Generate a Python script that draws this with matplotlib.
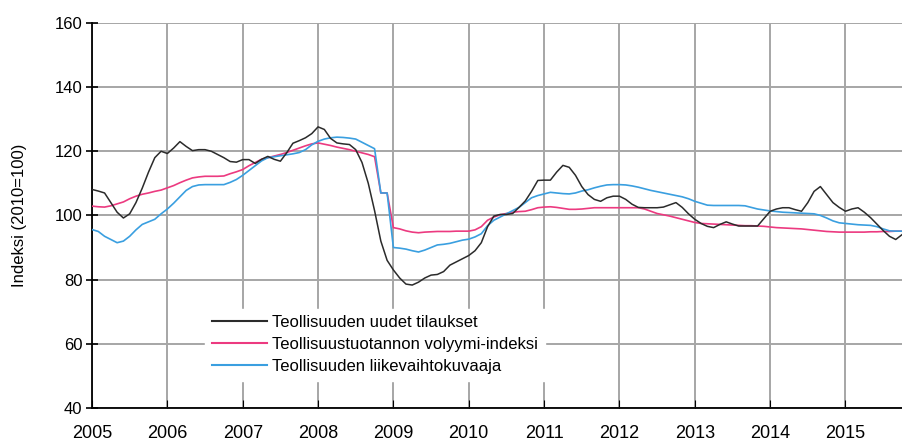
import numpy as np
import matplotlib
matplotlib.use('Agg')
import matplotlib.pyplot as plt

# monthly data, Jan 2005 .. Oct 2015 (2010=100)
orders = [
    108.1, 107.6, 107.0, 104.0, 101.0, 99.2, 100.5, 104.0, 108.5, 113.5, 118.0, 120.0,
    119.3, 121.0, 123.0, 121.5, 120.2, 120.5, 120.5, 120.0, 119.0, 118.0, 116.8, 116.6,
    117.4, 117.4, 116.2, 117.5, 118.4, 117.5, 116.9, 119.5, 122.5, 123.3, 124.2, 125.5,
    127.6, 126.8, 124.0, 122.6, 122.3, 122.1, 120.5, 116.5, 110.0, 101.5, 92.0, 86.0,
    83.0, 80.5, 78.6, 78.3, 79.2, 80.5, 81.4, 81.6, 82.5, 84.5, 85.5, 86.5,
    87.5, 89.0, 91.5, 96.5, 99.8, 100.3, 100.3, 100.6, 102.5, 104.5, 107.5, 110.9,
    111.0, 111.0, 113.5, 115.6, 115.0, 112.5, 109.0, 106.5, 105.0, 104.4, 105.5, 106.0,
    106.0, 105.0, 103.5, 102.5, 102.4, 102.4, 102.4, 102.6, 103.3, 104.0, 102.5, 100.5,
    98.8, 97.5, 96.6, 96.2, 97.2, 98.0, 97.3, 96.7, 96.7, 96.7, 96.7, 99.0,
    101.3, 102.0, 102.4, 102.4, 101.8, 101.3, 104.0, 107.5, 109.0, 106.5, 104.0, 102.5,
    101.3, 102.0, 102.4, 101.0, 99.3, 97.3, 95.3, 93.5, 92.5, 94.0,
]
volume = [
    102.9, 102.7, 102.6, 103.0, 103.6, 104.2, 105.2, 106.0, 106.6, 107.0, 107.5, 107.9,
    108.6, 109.3, 110.2, 111.0, 111.7, 112.0, 112.2, 112.2, 112.2, 112.3, 113.0, 113.6,
    114.3, 115.5, 116.5, 117.5, 118.0, 118.5, 119.0, 119.6, 120.3, 121.0, 121.7, 122.3,
    122.6, 122.2, 121.8, 121.3, 120.9, 120.5, 120.0, 119.5, 119.0, 118.3, 107.0, 107.0,
    96.2, 95.8, 95.2, 94.8, 94.6, 94.8, 94.9, 95.0, 95.0, 95.0, 95.1, 95.1,
    95.1, 95.5, 96.5, 98.5, 99.5, 100.2, 100.6, 101.0, 101.2, 101.3, 101.8, 102.4,
    102.6, 102.7, 102.5, 102.2, 101.9, 101.9, 102.0, 102.2, 102.4, 102.4, 102.4, 102.4,
    102.4, 102.4, 102.4, 102.4, 102.0, 101.3, 100.6, 100.2, 99.8, 99.3, 98.8, 98.3,
    97.8, 97.5, 97.4, 97.3, 97.2, 97.1, 97.0, 96.9, 96.8, 96.8, 96.7, 96.6,
    96.4, 96.2, 96.1, 96.0, 95.9, 95.8, 95.6, 95.4, 95.2, 95.0, 94.9, 94.8,
    94.8, 94.8, 94.8, 94.8, 94.9, 94.9, 95.0, 95.0, 95.1, 95.1,
]
turnover = [
    95.6, 95.0, 93.5, 92.5, 91.5, 92.0, 93.5, 95.5, 97.2, 98.0, 98.8, 100.5,
    102.0, 103.8, 105.8, 107.8, 109.0, 109.5, 109.6, 109.6, 109.6, 109.6, 110.3, 111.2,
    112.5, 114.0, 115.5, 117.0, 118.0, 118.3, 118.6, 118.9, 119.2, 119.6, 120.5, 122.0,
    123.1, 123.8, 124.2, 124.4, 124.3, 124.1, 123.8, 122.8, 121.8, 120.8, 107.0, 107.0,
    90.0, 89.8, 89.5, 89.0, 88.6, 89.2, 90.0, 90.8, 91.0, 91.3, 91.8, 92.3,
    92.6, 93.3, 94.3, 96.8, 98.5, 99.5, 100.5, 101.5, 102.5, 104.0, 105.5, 106.2,
    106.7, 107.2, 107.0, 106.8, 106.7, 107.0, 107.6, 108.0, 108.6, 109.1, 109.5, 109.6,
    109.6, 109.5, 109.2, 108.8, 108.3, 107.8, 107.4, 107.0, 106.6, 106.2, 105.8, 105.2,
    104.4, 103.8, 103.2, 103.1, 103.1, 103.1, 103.1, 103.1, 103.0, 102.5, 102.0, 101.7,
    101.4, 101.2, 101.0, 100.9, 100.8, 100.7, 100.6, 100.5, 100.0, 99.2, 98.3, 97.7,
    97.5, 97.3, 97.1, 97.0, 96.9, 96.5, 95.8, 95.2, 95.1, 95.1,
]
labels = ['Teollisuuden uudet tilaukset',
          'Teollisuustuotannon volyymi-indeksi',
          'Teollisuuden liikevaihtokuvaaja']
years = list(range(2005, 2016))

plt.rcParams['font.family'] = ['Liberation Sans', 'DejaVu Sans']

x = 2005 + np.arange(len(orders)) / 12.0

fig = plt.figure(figsize=(9.02, 4.41), dpi=100)
ax = fig.add_axes([0.102, 0.075, 0.898, 0.873])

ax.plot(x, orders, color='#2b2b2b', lw=1.1, label=labels[0], zorder=5)
ax.plot(x, volume, color='#ec3a80', lw=1.2, label=labels[1], zorder=3)
ax.plot(x, turnover, color='#3a9fe0', lw=1.2, label=labels[2], zorder=4)

ax.set_xlim(2005, x[-1])
ax.set_ylim(40, 160)
ax.set_yticks(range(40, 161, 20))
ax.set_xticks(years)
ax.set_xticklabels([str(y) for y in years])
ax.grid(True, color='#a6a6a6', lw=1.4)
ax.set_axisbelow(True)

ax.spines.right.set_visible(False)
ax.spines.top.set_visible(False)
ax.spines['left'].set_linewidth(1.3)
ax.spines['bottom'].set_linewidth(1.3)
ax.tick_params(axis='y', direction='inout', length=8, width=1.2, labelsize=12, pad=3)
ax.tick_params(axis='x', direction='in', length=6, width=0.8, labelsize=13, pad=12)
ax.set_ylabel('Indeksi (2010=100)', fontsize=12, labelpad=20)

leg = ax.legend(loc='lower left', bbox_to_anchor=(0.14, 0.07), frameon=True,
                fontsize=12, handlelength=3.3, handletextpad=0.3, labelspacing=0.42,
                borderaxespad=0, fancybox=False)
leg.get_frame().set_edgecolor('white')
leg.get_frame().set_facecolor('white')
leg.get_frame().set_alpha(1)
for line in leg.get_lines():
    line.set_linewidth(1.5)

fig.savefig('out.png', dpi=100)
